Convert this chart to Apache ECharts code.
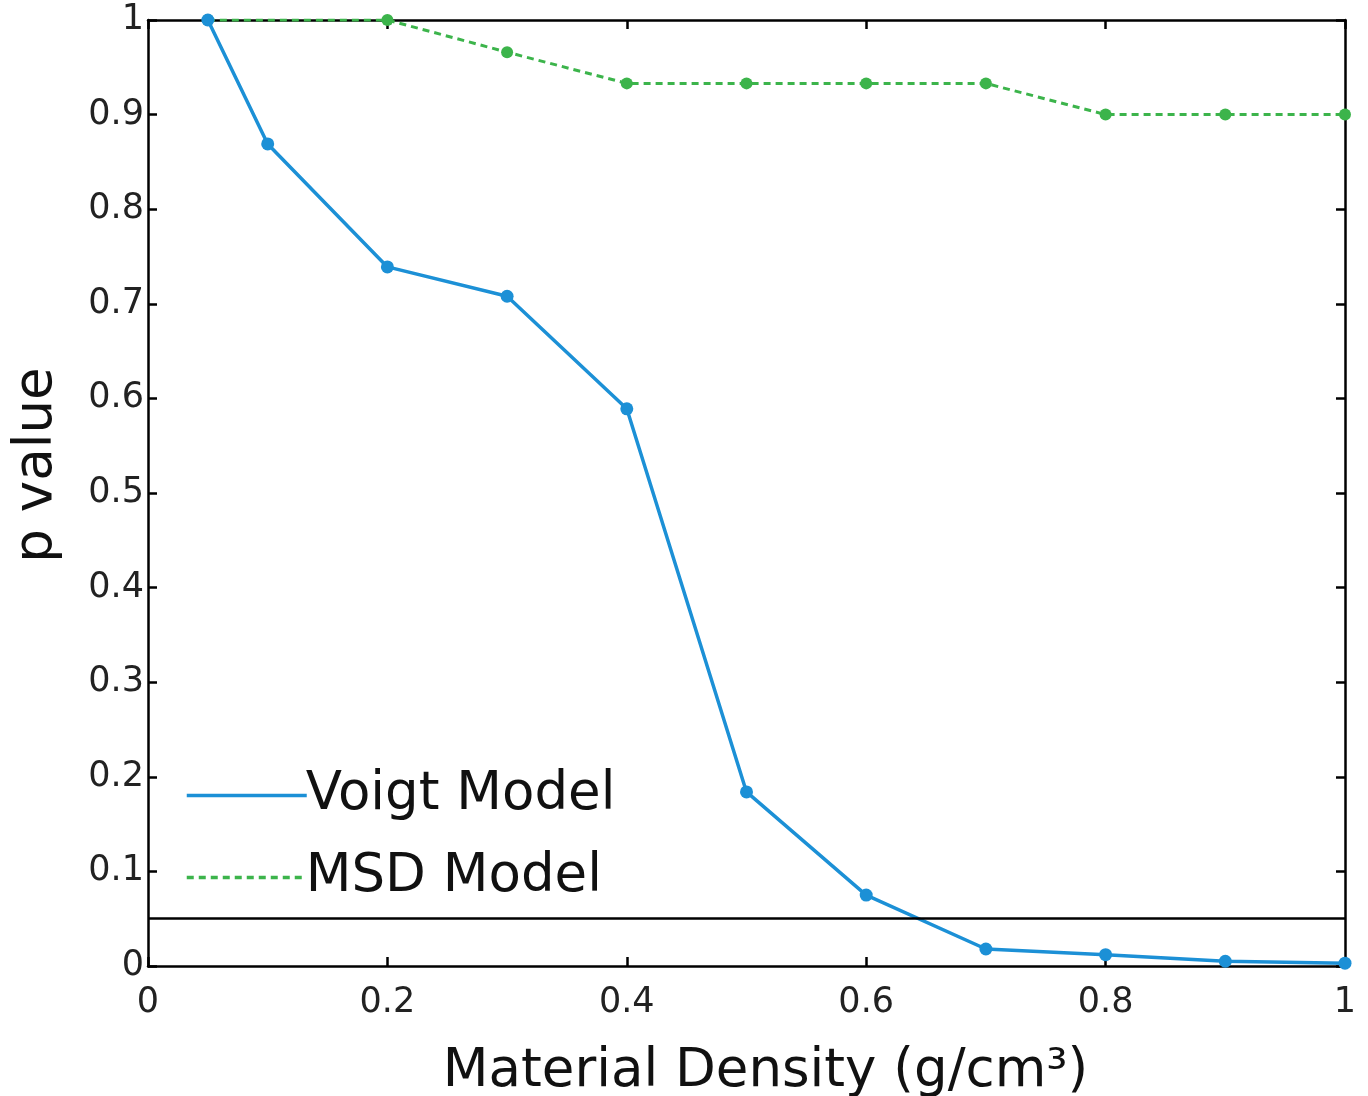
<!DOCTYPE html>
<html>
<head>
<meta charset="utf-8">
<script src="https://cdn.jsdelivr.net/npm/echarts@6/dist/echarts.min.js"></script>
<style>
html,body{margin:0;padding:0;background:#fff;}
#chart{width:1368px;height:1096px;}
</style>
</head>
<body>
<div id="chart"></div>
<script>
// Data
const voigtX = [0.05, 0.1, 0.2, 0.3, 0.4, 0.5, 0.6, 0.7, 0.8, 0.9, 1.0];
const voigtY = [1.0, 0.869, 0.739, 0.708, 0.589, 0.184, 0.075, 0.018, 0.012, 0.005, 0.003];
const msdX = [0.05, 0.2, 0.3, 0.4, 0.5, 0.6, 0.7, 0.8, 0.9, 1.0];
const msdY = [1.0, 1.0, 0.966, 0.933, 0.933, 0.933, 0.933, 0.9, 0.9, 0.9];
const thresholdP = 0.05;
const seriesNames = ['Voigt Model', 'MSD Model'];
const xTitle = 'Material Density (g/cm³)';
const yTitle = 'p value';

const FONT = 'DejaVu Sans';
const fmt = v => (v === 0 ? '0' : v === 1 ? '1' : v.toFixed(1));

const chart = echarts.init(document.getElementById('chart'), null, {renderer: 'canvas'});
const axisLine = {show: true, onZero: false, lineStyle: {color: '#000', width: 2.5}};
const axisTick = {show: true, inside: true, length: 9, lineStyle: {color: '#000', width: 2.5}};

chart.setOption({
  animation: false,
  backgroundColor: '#fff',
  grid: {left: 148, right: 23, top: 20, bottom: 130, containLabel: false, outerBoundsMode: 'none'},
  legend: {
    orient: 'vertical',
    left: 180,
    top: 764,
    itemWidth: 120,
    itemHeight: 14,
    itemGap: 29,
    textStyle: {fontFamily: FONT, fontSize: 53, color: '#111', padding: [0, 0, 0, -6]},
    itemStyle: {opacity: 0},
    lineStyle: {width: 3.5},
    data: seriesNames
  },
  xAxis: [{
    type: 'value', min: 0, max: 1, interval: 0.2,
    axisLine, axisTick, splitLine: {show: false},
    axisLabel: {formatter: fmt, fontFamily: FONT, fontSize: 35, color: '#222', margin: 19},
    name: xTitle, nameLocation: 'middle', nameGap: 80,
    nameTextStyle: {fontFamily: FONT, fontSize: 53, color: '#111', padding: [0, 0, 0, 38]}
  }, {
    type: 'value', position: 'top', min: 0, max: 1, interval: 0.2,
    axisLine, axisTick, splitLine: {show: false}, axisLabel: {show: false}
  }],
  yAxis: [{
    type: 'value', min: 0, max: 1, interval: 0.1,
    axisLine, axisTick, splitLine: {show: false},
    axisLabel: {formatter: fmt, fontFamily: FONT, fontSize: 35, color: '#222', margin: 4},
    name: yTitle, nameLocation: 'middle', nameGap: 84,
    nameTextStyle: {fontFamily: FONT, fontSize: 53, color: '#111', padding: [0, 0, 0, 56]}
  }, {
    type: 'value', position: 'right', min: 0, max: 1, interval: 0.1,
    axisLine, axisTick, splitLine: {show: false}, axisLabel: {show: false}
  }],
  series: [{
    name: seriesNames[1],
    type: 'line',
    data: msdX.map((x, i) => [x, msdY[i]]),
    symbol: 'circle', symbolSize: 12,
    itemStyle: {color: '#3cb44b'},
    lineStyle: {color: '#3cb44b', width: 3, type: [7, 5]},
    z: 3
  }, {
    name: seriesNames[0],
    type: 'line',
    data: voigtX.map((x, i) => [x, voigtY[i]]),
    symbol: 'circle', symbolSize: 13,
    itemStyle: {color: '#1c90d6'},
    lineStyle: {color: '#1c90d6', width: 3.5},
    z: 4,
    markLine: {
      silent: true, symbol: ['none', 'none'], label: {show: false},
      lineStyle: {color: '#000', width: 2.5, type: 'solid'},
      data: [{yAxis: thresholdP}]
    }
  }]
});
</script>
</body>
</html>
